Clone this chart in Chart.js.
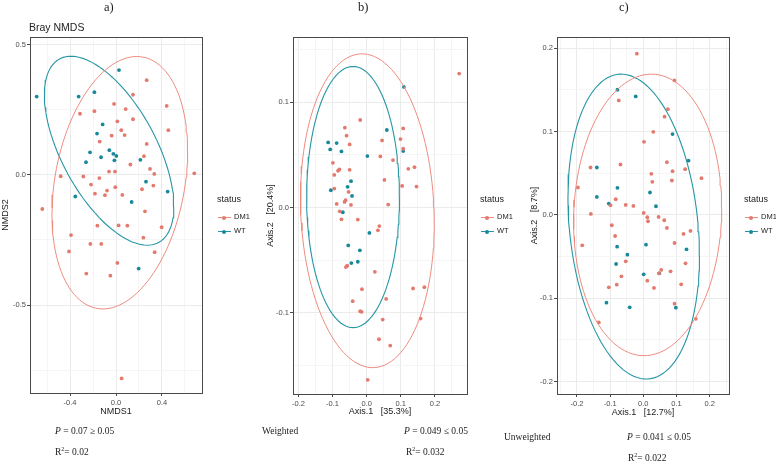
<!DOCTYPE html>
<html>
<head>
<meta charset="utf-8">
<script src="https://cdn.jsdelivr.net/npm/chart.js@4.4.1/dist/chart.umd.min.js"></script>
<style>
  html, body { margin:0; padding:0; background:#fff; }
  #wrap { position:relative; width:776px; height:464px; overflow:hidden; background:#fff; }
  canvas.pc { position:absolute; left:0; top:0; }
  .t { position:absolute; white-space:nowrap; line-height:1; }
  .serif { font-family:"Liberation Serif","DejaVu Serif",serif; color:#222; }
  .sans { font-family:"Liberation Sans",Arial,sans-serif; color:#222; }
  .key { position:absolute; width:13px; height:1px; }
  .dot { position:absolute; width:4px; height:4px; border-radius:50%; }
</style>
</head>
<body>
<div id="wrap">
  <canvas class="pc" id="ca" width="776" height="464"></canvas>
  <canvas class="pc" id="cb" width="776" height="464"></canvas>
  <canvas class="pc" id="cc" width="776" height="464"></canvas>

  <div class="t serif" style="left:104px;top:1px;font-size:12.5px;">a)</div>
  <div class="t serif" style="left:358px;top:1px;font-size:12.5px;">b)</div>
  <div class="t serif" style="left:619px;top:1px;font-size:12.5px;">c)</div>
  <div class="t sans" style="left:29px;top:22px;font-size:10.5px;">Bray NMDS</div>

  <div class="t serif" style="left:55px;top:427px;font-size:9.5px;"><i>P</i> = 0.07 ≥ 0.05</div>
  <div class="t serif" style="left:55px;top:446px;font-size:9.5px;">R<sup style="font-size:6px;">2</sup>= 0.02</div>

  <div class="t serif" style="left:262px;top:427px;font-size:9.5px;">Weighted</div>
  <div class="t serif" style="left:404px;top:427px;font-size:9.5px;"><i>P</i> = 0.049 ≤ 0.05</div>
  <div class="t serif" style="left:406px;top:446px;font-size:9.5px;">R<sup style="font-size:6px;">2</sup>= 0.032</div>

  <div class="t serif" style="left:504px;top:433px;font-size:9.5px;">Unweighted</div>
  <div class="t serif" style="left:627px;top:433px;font-size:9.5px;"><i>P</i> = 0.041 ≤ 0.05</div>
  <div class="t serif" style="left:628px;top:452px;font-size:9.5px;">R<sup style="font-size:6px;">2</sup>= 0.022</div>
</div>
<script>
// ---------------- DATA ----------------
const groups = ['DM1', 'WT'];

// Panel a) Bray NMDS
const aDM1x = [0.267,0.148,-0.017,0.084,-0.188,-0.313,0.441,0.148,0.012,0.455,0.046,0.075,-0.038,-0.142,0.267,0.243,0.125,0.296,0.333,0.681,-0.061,-0.009,-0.481,-0.284,-0.145,-0.217,-0.006,0.325,0.226,-0.078,-0.183,-0.096,0.055,-0.641,0.252,-0.162,0.023,0.099,0.397,-0.391,0.238,-0.223,-0.128,-0.409,0.336,0.012,-0.258,-0.049,0.049];
const aDM1y = [0.364,0.308,0.273,0.253,0.245,0.235,0.265,0.214,0.206,0.172,0.172,0.153,0.151,0.128,0.119,0.072,0.040,0.023,0.004,0.006,0.013,0.013,-0.005,-0.006,-0.012,-0.037,-0.047,-0.041,-0.055,-0.060,-0.072,-0.078,-0.077,-0.131,-0.140,-0.195,-0.194,-0.195,-0.201,-0.231,-0.241,-0.265,-0.265,-0.294,-0.297,-0.338,-0.379,-0.387,-0.782];
const aWTx = [-0.690,-0.325,-0.188,0.026,-0.116,-0.165,-0.226,-0.261,-0.130,-0.058,-0.023,0.003,-0.014,0.212,0.261,0.449,-0.354,0.136,0.197];
const aWTy = [0.301,0.301,0.318,0.403,0.194,0.159,0.087,0.049,0.068,0.095,0.081,0.073,0.056,0.058,-0.026,-0.064,-0.083,-0.104,-0.360];
// ellipse: [centerX, centerY, halfRangeX, halfRangeY, cos(phase)]
const aEllDM1 = [0.033, -0.030, 0.590, 0.485, 0.25];
const aEllWT  = [-0.060, 0.093, 0.563, 0.363, -0.59];
const aXTicks = [-0.4, 0.0, 0.4];
const aXLabels = ['-0.4', '0.0', '0.4'];
const aXMinor = [-0.6, -0.2, 0.2, 0.6];
const aYTicks = [-0.5, 0.0, 0.5];
const aYLabels = ['-0.5', '0.0', '0.5'];
const aYMinor = [-0.75, -0.25, 0.25];

// Panel b) Weighted
const bDM1x = [0.271,-0.019,-0.064,0.107,-0.059,0.045,0.099,-0.050,0.107,0.040,0.077,-0.099,0.122,0.140,-0.080,-0.084,-0.095,-0.050,0.052,0.104,0.146,-0.095,-0.053,-0.062,-0.065,-0.088,-0.046,0.063,-0.079,-0.074,-0.026,0.037,0.033,-0.057,-0.061,0.024,-0.014,0.136,0.169,-0.041,0.057,-0.019,-0.015,0.158,0.047,0.036,0.069,0.003];
const bDM1y = [0.1273,0.0832,0.0759,0.0752,0.0683,0.0638,0.0651,0.0600,0.0559,0.0486,0.0451,0.0425,0.0368,0.0384,0.0362,0.0350,0.0310,0.0359,0.0263,0.0206,0.0200,0.0181,0.0149,0.0070,0.0054,0.0035,0.0025,0.0029,-0.0035,-0.0111,-0.0114,-0.0175,-0.0216,-0.0552,-0.0565,-0.0610,-0.0775,-0.0768,-0.0756,-0.0889,-0.0867,-0.0984,-0.0990,-0.1054,-0.1063,-0.1250,-0.1310,-0.1635];
const bWTx = [0.109,0.059,-0.113,-0.088,-0.107,-0.074,0.002,0.107,-0.046,-0.056,-0.105,-0.043,-0.070,0.008,-0.054,-0.020,-0.045,-0.026];
const bWTy = [0.1146,0.0737,0.0619,0.0613,0.0552,0.0533,0.0489,0.0537,0.0251,0.0197,0.0165,0.0111,-0.0044,-0.0240,-0.0359,-0.0406,-0.0527,-0.0514];
const bEllDM1 = [0.002, -0.003, 0.196, 0.149, -0.08];
const bEllWT  = [-0.040, 0.010, 0.136, 0.124, 0.0];
const bXTicks = [-0.2, -0.1, 0.0, 0.1, 0.2];
const bXLabels = ['-0.2', '-0.1', '0.0', '0.1', '0.2'];
const bXMinor = [-0.15, -0.05, 0.05, 0.15, 0.25];
const bYTicks = [-0.1, 0.0, 0.1];
const bYLabels = ['-0.1', '0.0', '0.1'];
const bYMinor = [-0.15, -0.05, 0.05, 0.15];

// Panel c) Unweighted
const cDM1x = [-0.0195,0.0937,-0.074,0.074,0.064,0.030,0.002,0.071,-0.159,-0.069,0.126,0.088,0.175,0.024,0.027,0.086,-0.197,-0.083,-0.099,-0.053,-0.030,-0.158,0.001,0.012,0.014,0.046,0.063,-0.095,0.071,0.121,0.142,-0.085,-0.184,0.094,0.127,-0.053,-0.066,0.012,0.054,0.047,0.082,-0.104,-0.080,0.032,0.114,0.094,-0.134,0.158];
const cDM1y = [0.1936,0.1615,0.1375,0.127,0.118,0.0998,0.0878,0.0633,0.0569,0.0605,0.0549,0.0525,0.0441,0.0493,0.0397,0.0413,0.0329,0.0188,0.0116,0.012,0.0108,0.0012,0.0024,-0.0028,-0.0076,-0.0024,-0.0064,-0.0124,-0.0156,-0.0228,-0.0192,-0.0253,-0.0365,-0.0337,-0.0581,-0.0557,-0.0737,-0.0789,-0.066,-0.0701,-0.0677,-0.0869,-0.0837,-0.0877,-0.0833,-0.1066,-0.1291,-0.1247];
const cWTx = [-0.078,-0.023,0.088,0.136,-0.140,-0.140,-0.078,0.020,-0.104,0.038,-0.079,0.008,0.130,-0.048,-0.082,0.001,0.048,-0.111,-0.041,0.098];
const cWTy = [0.1503,0.1423,0.097,0.0653,0.0569,0.0216,0.0325,0.0269,0.0136,0.0104,-0.0381,-0.0357,-0.0413,-0.0477,-0.0589,-0.0713,-0.0701,-0.1054,-0.111,-0.1114];
const cEllDM1 = [0.013, 0.000, 0.223, 0.169, 0.05];
const cEllWT  = [-0.029, -0.014, 0.198, 0.183, -0.19];
const cXTicks = [-0.2, -0.1, 0.0, 0.1, 0.2];
const cXLabels = ['-0.2', '-0.1', '0.0', '0.1', '0.2'];
const cXMinor = [-0.25, -0.15, -0.05, 0.05, 0.15, 0.25];
const cYTicks = [-0.2, -0.1, 0.0, 0.1, 0.2];
const cYLabels = ['-0.2', '-0.1', '0.0', '0.1', '0.2'];
const cYMinor = [-0.15, -0.05, 0.05, 0.15];

// ---------------- STYLE ----------------
const ptColor = { DM1: '#e4796d', WT: '#17899a' };
const lnColor = { DM1: '#ee8b7f', WT: '#2696a4' };

function zip(xs, ys) { return xs.map((x, i) => ({ x: x, y: ys[i] })); }
function ellipse(p) {
  const [cx, cy, rx, ry, c] = p;
  const ph = Math.acos(c);
  const pts = [];
  for (let i = 0; i <= 120; i++) {
    const t = i / 120 * 2 * Math.PI;
    pts.push({ x: cx + rx * Math.cos(t), y: cy + ry * Math.cos(t - ph) });
  }
  return pts;
}
function near(a, b) { return Math.abs(a - b) < 1e-6; }

const borderPlugin = {
  id: 'panelBorder',
  afterDraw(chart) {
    const { ctx, chartArea: a } = chart;
    ctx.save();
    ctx.strokeStyle = '#4a4a4a';
    ctx.lineWidth = 1;
    ctx.strokeRect(Math.round(a.left) + 0.5, Math.round(a.top) + 0.5, Math.round(a.right - a.left), Math.round(a.bottom - a.top));
    ctx.restore();
  }
};

function axis(major, labels, minor, min, max, title, fitSize, isX) {
  const all = major.concat(minor).sort((p, q) => p - q);
  const lab = v => { const i = major.findIndex(m => near(m, v)); return i >= 0 ? labels[i] : ''; };
  const isMaj = v => major.some(m => near(m, v));
  const ax = {
    type: 'linear', min: min, max: max,
    afterBuildTicks: s => { s.ticks = all.map(v => ({ value: v })); },
    ticks: { autoSkip: false, maxRotation: 0, padding: isX ? 2 : 1, color: '#4d4d4d',
             font: { family: 'Liberation Sans', size: 7.5 },
             callback: v => lab(v) },
    grid: { drawTicks: true, tickLength: 3, lineWidth: 1,
            color: c => (c.tick && isMaj(c.tick.value)) ? '#ebebeb' : '#f5f5f5',
            tickColor: c => (c.tick && isMaj(c.tick.value)) ? '#4a4a4a' : 'rgba(0,0,0,0)' },
    border: { display: false },
    title: { display: true, text: title, color: '#1a1a1a', padding: 0,
             font: { family: 'Liberation Sans', size: 9 } },
    afterFit: s => { if (isX) s.height = fitSize; else s.width = fitSize; }
  };
  return ax;
}

function makePanel(id, d, box) {
  const datasets = [
    { label: 'DM1', data: zip(d.dx, d.dy), backgroundColor: ptColor.DM1, borderColor: ptColor.DM1, pointRadius: 1.9, borderWidth: 0, showLine: false, order: 2 },
    { label: 'WT', data: zip(d.wx, d.wy), backgroundColor: ptColor.WT, borderColor: ptColor.WT, pointRadius: 1.9, borderWidth: 0, showLine: false, order: 2 },
    { label: 'DM1 ellipse', data: ellipse(d.ed), borderColor: lnColor.DM1, borderWidth: 1, pointRadius: 0, showLine: true, fill: false, tension: 0, order: 1 },
    { label: 'WT ellipse', data: ellipse(d.ew), borderColor: lnColor.WT, borderWidth: 1.1, pointRadius: 0, showLine: true, fill: false, tension: 0, order: 1 }
  ];
  new Chart(document.getElementById(id), {
    type: 'scatter',
    data: { datasets: datasets },
    options: {
      responsive: false, animation: false, devicePixelRatio: 1,
      layout: { padding: { left: box.left - box.yw, top: box.top, right: 776 - box.right, bottom: 464 - box.bottom - box.xh } },
      plugins: { legend: { display: false }, tooltip: { enabled: false }, title: { display: false } },
      scales: {
        x: axis(d.xt, d.xl, d.xm, d.xmin, d.xmax, d.xtitle, box.xh, true),
        y: axis(d.yt, d.yl, d.ym, d.ymin, d.ymax, d.ytitle, box.yw, false)
      }
    },
    plugins: [borderPlugin]
  });
}

makePanel('ca', { dx: aDM1x, dy: aDM1y, wx: aWTx, wy: aWTy, ed: aEllDM1, ew: aEllWT,
  xt: aXTicks, xl: aXLabels, xm: aXMinor, yt: aYTicks, yl: aYLabels, ym: aYMinor,
  xmin: -0.748, xmax: 0.748, ymin: -0.838, ymax: 0.53, xtitle: 'NMDS1', ytitle: 'NMDS2' },
  { left: 30, right: 202, top: 37, bottom: 393, yw: 30, xh: 24 });

makePanel('cb', { dx: bDM1x, dy: bDM1y, wx: bWTx, wy: bWTy, ed: bEllDM1, ew: bEllWT,
  xt: bXTicks, xl: bXLabels, xm: bXMinor, yt: bYTicks, yl: bYLabels, ym: bYMinor,
  xmin: -0.216, xmax: 0.294, ymin: -0.177, ymax: 0.162, xtitle: 'Axis.1   [35.3%]', ytitle: 'Axis.2   [20.4%]' },
  { left: 293, right: 467, top: 37, bottom: 394, yw: 28, xh: 23 });

makePanel('cc', { dx: cDM1x, dy: cDM1y, wx: cWTx, wy: cWTy, ed: cEllDM1, ew: cEllWT,
  xt: cXTicks, xl: cXLabels, xm: cXMinor, yt: cYTicks, yl: cYLabels, ym: cYMinor,
  xmin: -0.26, xmax: 0.258, ymin: -0.215, ymax: 0.2136, xtitle: 'Axis.1   [12.7%]', ytitle: 'Axis.2   [8.7%]' },
  { left: 557, right: 729, top: 37, bottom: 394, yw: 28, xh: 24 });

// ---------------- LEGENDS (HTML text) ----------------
const wrap = document.getElementById('wrap');
[217, 480, 744].forEach(L => {
  const st = document.createElement('div');
  st.className = 't sans'; st.style.left = L + 'px'; st.style.top = '195px'; st.style.fontSize = '9px';
  st.textContent = 'status'; wrap.appendChild(st);
  groups.forEach((g, i) => {
    const cy = 217 + i * 14;
    const k = document.createElement('div'); k.className = 'key';
    k.style.left = (L + 1) + 'px'; k.style.top = cy + 'px'; k.style.background = lnColor[g]; wrap.appendChild(k);
    const d = document.createElement('div'); d.className = 'dot';
    d.style.left = (L + 5) + 'px'; d.style.top = (cy - 1.5) + 'px'; d.style.background = ptColor[g]; wrap.appendChild(d);
    const tx = document.createElement('div'); tx.className = 't sans';
    tx.style.left = (L + 17) + 'px'; tx.style.top = (cy - 4) + 'px'; tx.style.fontSize = '7.5px';
    tx.textContent = g; wrap.appendChild(tx);
  });
});
</script>
</body>
</html>
